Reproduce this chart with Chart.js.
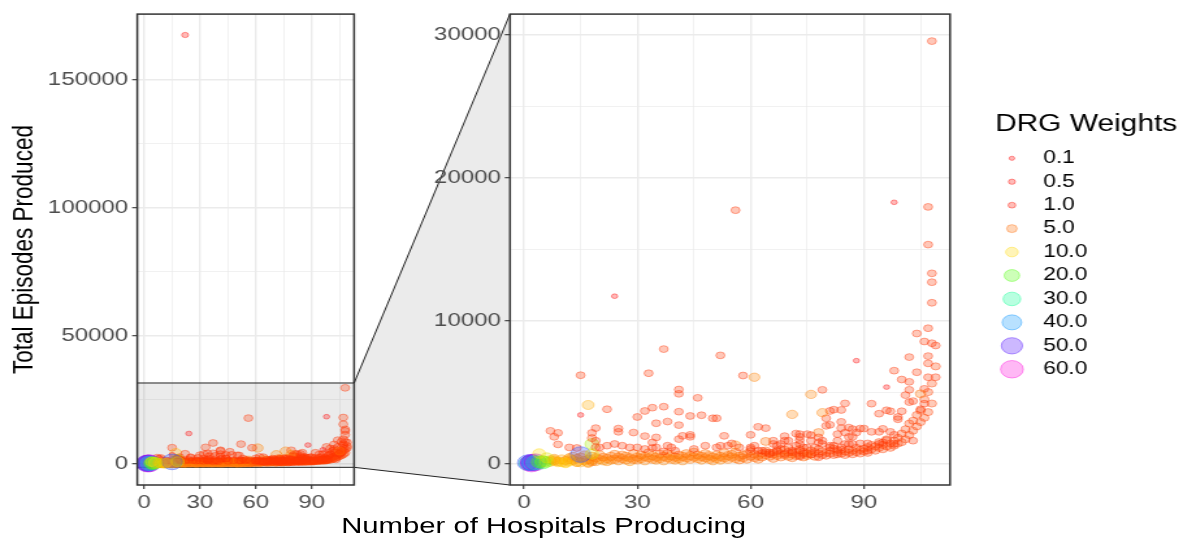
<!DOCTYPE html>
<html>
<head>
<meta charset="utf-8">
<title>Total episodes vs hospitals producing, by DRG weight</title>
<script src="https://cdn.jsdelivr.net/npm/chart.js@4.4.1/dist/chart.umd.min.js"></script>
<style>
  html, body { margin: 0; padding: 0; background: #fff; }
  /* the reference picture is stretched horizontally, so the whole figure is too */
  #wrap { position: relative; width: 913px; height: 541px; transform: scaleX(1.3); transform-origin: 0 0; overflow: hidden; }
  #wrap canvas { position: absolute; top: 0; }
  #xTitle { position: absolute; top: 513px; font: 22.5px "Liberation Sans", Arial, sans-serif; color: #000; text-align: center; white-space: nowrap; }
</style>
</head>
<body>
<div id="wrap">
  <canvas id="zoomLink" width="913" height="541" style="left:0"></canvas>
  <canvas id="fullPanel" width="282" height="541" style="left:0"></canvas>
  <canvas id="zoomPanel" width="588" height="541" style="left:325px"></canvas>
  <div id="xTitle">Number of Hospitals Producing</div>
</div>
<script>
// ---- data: x = hospitals producing, y = total episodes, w = DRG weight ----

// scattered DRGs above the main band
const scatterX = [
  22, 108, 56, 98, 107, 107, 108, 108, 108, 24,
  107, 104, 106, 108, 109, 107, 102, 107, 88, 104,
  107, 109, 98, 100, 102, 106, 102, 101, 96, 102,
  103, 106, 105, 105, 100, 99, 99, 96, 97, 92,
  94, 95, 97, 98, 103, 98, 94, 95, 91, 96,
  89, 88, 87, 86, 85, 90, 92, 94, 89, 91,
  87, 85, 85, 84, 84, 83, 86, 87, 79, 76,
  82, 81, 80, 80, 81, 79, 84, 78, 79, 75,
  73, 73, 72, 76, 73, 76, 78, 78, 79, 77,
  81, 81, 82, 83, 84, 83, 86, 75, 78, 71,
  69, 69, 68, 67, 66, 66, 64, 62, 60, 64,
  61, 58, 52, 37, 33, 15, 41, 41, 46, 17,
  22, 15, 32, 34, 37, 41, 44, 47, 50, 51,
  30, 35, 38, 41, 7, 9, 8, 18, 19, 25,
  25, 29, 32, 35, 41, 42, 44, 44, 53, 9,
  12, 14, 18, 18, 19, 19, 34, 56, 52, 54,
  55, 57, 45, 48, 51, 39, 38, 37, 40, 20,
  22, 24, 26, 28, 30, 32, 34, 35, 60, 61,
  63, 65, 67, 69, 71, 73, 71, 73, 76, 70,
  72, 73, 60, 62, 64, 66, 68, 70, 74, 74
];
const scatterY = [
  167400, 29560, 17730, 18280, 17960, 15320, 13310, 12690, 11250, 11710,
  9470, 9100, 8540, 8420, 8260, 7520, 7450, 7010, 7200, 6390,
  6040, 6040, 6500, 5880, 5720, 5230, 5160, 4790, 5350, 4300,
  4370, 4190, 3800, 4880, 3660, 3260, 3100, 3730, 3660, 4190,
  3490, 2430, 2220, 2010, 1600, 1370, 1370, 1480, 900, 1640,
  2450, 2170, 2410, 2520, 2170, 2450, 2220, 2220, 1410, 1410,
  1370, 1370, 4210, 2920, 2480, 2060, 1870, 1870, 5160, 4840,
  3770, 3680, 3170, 2640, 2710, 3560, 3750, 2170, 1600, 2060,
  2060, 1870, 2100, 1990, 1640, 1600, 1830, 1480, 1370, 1130,
  1250, 1130, 1250, 1600, 1130, 950, 1370, 1130, 440, 3440,
  1920, 1600, 1370, 1250, 1600, 1370, 2480, 2570, 2010, 1550,
  6040, 6160, 7570, 8010, 6320, 6180, 5180, 4880, 4600, 4100,
  3800, 3400, 3680, 3910, 3980, 3630, 3330, 3380, 3170, 3170,
  3260, 2820, 2940, 2690, 2290, 2150, 1870, 2150, 2480, 2450,
  2220, 2170, 1920, 1830, 1710, 1940, 1870, 2010, 1940, 1340,
  1130, 1090, 1370, 1780, 1600, 1130, 1480, 1290, 1250, 1250,
  1410, 1130, 1020, 1250, 1130, 1130, 1250, 850, 900, 1130,
  1250, 1370, 1250, 1130, 1130, 1020, 1090, 1130, 1020, 1250,
  900, 670, 900, 670, 790, 490, 900, 900, 630, 1600,
  1250, 1370, 1130, 900, 790, 790, 1020, 1130, 670, 1130
];
const scatterW = [
  0.5, 2.5, 2.5, 0.2, 2.5, 2.5, 2.5, 2.5, 2.5, 0.2,
  2.5, 2.5, 2.5, 2.5, 2.5, 2.5, 2.5, 2.5, 0.2, 2.5,
  2.5, 2.5, 2.5, 2.5, 2.5, 2.5, 2.5, 2.5, 0.2, 2.5,
  2.5, 2.5, 2.5, 5, 2.5, 2.5, 2.5, 2.5, 2.5, 2.5,
  2.5, 2.5, 2.5, 2.5, 2.5, 2.5, 2.5, 2.5, 2.5, 2.5,
  2.5, 2.5, 2.5, 2.5, 2.5, 2.5, 2.5, 2.5, 2.5, 2.5,
  2.5, 2.5, 2.5, 2.5, 2.5, 2.5, 2.5, 2.5, 2.5, 6,
  2.5, 2.5, 2.5, 2.5, 2.5, 6, 2.5, 5, 2.5, 2.5,
  2.5, 2.5, 2.5, 2.5, 2.5, 2.5, 2.5, 2.5, 2.5, 2.5,
  2.5, 2.5, 2.5, 2.5, 2.5, 2.5, 2.5, 2.5, 2.5, 6,
  2.5, 2.5, 2.5, 2.5, 2.5, 2.5, 2.5, 2.5, 2.5, 5,
  6, 2.5, 2.5, 2.5, 2.5, 2.5, 2.5, 2.5, 2.5, 8,
  2.5, 0.2, 2.5, 2.5, 2.5, 2.5, 2.5, 2.5, 2.5, 2.5,
  2.5, 2.5, 2.5, 2.5, 2.5, 2.5, 2.5, 2.5, 2.5, 2.5,
  2.5, 2.5, 2.5, 2.5, 2.5, 2.5, 2.5, 2.5, 2.5, 2.5,
  2.5, 2.5, 15, 3, 2.5, 2.5, 2.5, 6, 2.5, 2.5,
  2.5, 2.5, 2.5, 2.5, 2.5, 2.5, 2.5, 2.5, 2.5, 2.5,
  2.5, 2.5, 2.5, 2.5, 2.5, 2.5, 2.5, 2.5, 2.5, 2.5,
  2.5, 2.5, 2.5, 2.5, 2.5, 2.5, 2.5, 2.5, 2.5, 2.5,
  2.5, 2.5, 2.5, 2.5, 2.5, 2.5, 2.5, 2.5, 2.5, 2.5
];

// the dense band just above zero
const bandX = [
  7, 7, 8, 8, 9, 10, 10, 11, 11, 12,
  12, 13, 13, 14, 14, 15, 15, 16, 16, 17,
  17, 18, 18, 19, 19, 20, 20, 21, 21, 22,
  22, 23, 23, 24, 24, 25, 25, 26, 26, 27,
  27, 28, 28, 29, 29, 30, 30, 31, 31, 32,
  32, 33, 33, 34, 34, 35, 35, 36, 36, 37,
  37, 38, 38, 39, 39, 40, 40, 41, 41, 42,
  42, 43, 43, 44, 44, 45, 45, 46, 46, 47,
  47, 48, 48, 49, 49, 50, 50, 51, 51, 52,
  52, 53, 53, 54, 54, 55, 55, 56, 56, 57,
  57, 58, 58, 59, 59, 60, 60, 61, 61, 62,
  62, 63, 63, 64, 64, 65, 65, 66, 66, 67,
  67, 68, 68, 69, 69, 70, 70, 71, 71, 72,
  72, 73, 73, 74, 74, 75, 75, 76, 76, 77,
  77, 78, 78, 79, 79, 80, 80, 81, 81, 82,
  82, 83, 83, 84, 84, 85, 85, 86, 86, 87,
  87, 88, 88, 89, 89, 90, 90, 91, 91, 92,
  92, 93, 93, 94, 94, 95, 95, 96, 96, 97,
  97, 98, 98, 99, 99, 100, 100, 101, 101, 102,
  102, 103, 103, 104, 104, 105, 105, 106, 106, 107,
  107, 108, 108, 109
];
const bandY = [
  250, 120, 350, 180, 150, 300, 100, 200, 60, 400,
  150, 250, 500, 120, 350, 80, 450, 200, 600, 100,
  300, 250, 500, 150, 400, 300, 600, 200, 450, 350,
  150, 500, 250, 300, 650, 200, 450, 350, 600, 250,
  500, 400, 150, 300, 700, 450, 250, 350, 600, 200,
  500, 400, 750, 300, 550, 250, 450, 350, 650, 500,
  200, 400, 700, 300, 550, 450, 250, 600, 350, 500,
  200, 400, 700, 300, 550, 450, 800, 350, 600, 250,
  500, 400, 700, 300, 550, 450, 200, 600, 350, 500,
  250, 400, 750, 300, 550, 450, 650, 350, 800, 500,
  250, 600, 400, 300, 700, 500, 850, 400, 650, 550,
  300, 700, 450, 600, 900, 500, 750, 650, 350, 550,
  850, 700, 450, 600, 950, 500, 800, 650, 400, 750,
  550, 600, 1000, 450, 800, 700, 550, 900, 650, 500,
  800, 700, 1000, 600, 850, 750, 550, 900, 700, 600,
  1050, 800, 650, 950, 700, 850, 600, 1000, 750, 900,
  650, 1100, 800, 950, 700, 1050, 850, 1150, 750, 1000,
  1300, 900, 1200, 1100, 1500, 1000, 1300, 1200, 1700, 1400,
  1100, 1600, 1250, 1800, 1400, 1500, 2100, 1700, 2400, 2000,
  2800, 2300, 3000, 2600, 3400, 2900, 3700, 3200, 4500, 3600,
  5000, 4200, 5600, 6800
];
const bandW = [
  6.5, 7.5, 6.5, 7.5, 6.5, 7.5, 8.5, 6.5, 7.5, 6.5,
  8.5, 7.5, 5.5, 8.5, 6.5, 7.5, 5.5, 7.5, 5.5, 8.5,
  6.5, 7.5, 5.5, 6.5, 5.5, 6.5, 5.5, 6.5, 5, 5.5,
  6.5, 5.5, 6, 5.5, 5, 6, 5.5, 5.5, 5, 5.5,
  5.5, 5.5, 6.5, 5.5, 5, 5.5, 5.5, 5.5, 5, 6,
  5.5, 5.5, 5, 5.5, 5.5, 6, 5.5, 5.5, 5, 5.5,
  6, 5.5, 5, 5.5, 5.5, 5.5, 6, 5, 5.5, 5.5,
  6, 5.5, 5, 5.5, 5.5, 5.5, 5, 5.5, 5, 6,
  5.5, 5.5, 5, 5.5, 5.5, 5.5, 6, 5, 5.5, 5.5,
  6, 5.5, 5, 5.5, 5.5, 5.5, 5, 5.5, 5, 5.5,
  5, 4.5, 5, 5, 4.5, 4.5, 4, 4.5, 4, 4.5,
  5, 4, 4.5, 4, 4, 4.5, 4, 4, 4.5, 4,
  4, 4, 4.5, 4, 4, 4.5, 4, 4, 4.5, 4,
  4, 4, 4, 4.5, 4, 4, 4, 4, 4, 4.5,
  3, 3, 3, 3, 3, 3, 3, 3, 3, 3,
  3, 3, 3, 3, 3, 3, 3, 3, 3, 3,
  3, 3, 3, 3, 3, 3, 3, 3, 3, 3,
  3, 3, 3, 3, 3, 3, 3, 3, 3, 3,
  3, 3, 3, 3, 3, 3, 3, 3, 3, 3,
  3, 3, 3, 3, 3, 3, 3, 3, 3, 3,
  3, 3, 3, 3
];

// heavy DRGs made by only a few hospitals
const heavyX = [1, 1, 2, 2, 2, 3, 3, 4, 5, 5, 6, 4, 9, 11, 8, 14, 17, 18, 15, 18, 6, 12];
const heavyY = [30, 60, 20, 70, 40, 90, 50, 110, 80, 150, 120, 700, 100, 40, 250, 100, 20, 120, 630, 670, 400, 300];
const heavyW = [30, 45, 58, 50, 40, 55, 35, 20, 25, 18, 15, 10, 9, 10, 8, 7, 6, 5, 45, 12, 12, 8];

// axes
const xRange = [-3.7, 112.8];
const fullYRange = [-8400, 175560];
const zoomYRange = [-1500, 31450];
const xMajor = [0, 30, 60, 90];
const xMinor = [15, 45, 75, 105];
const fullYMajor = [0, 50000, 100000, 150000];
const fullYMinor = [25000, 75000, 125000];
const zoomYMajor = [0, 10000, 20000, 30000];
const zoomYMinor = [5000, 15000, 25000];

// legend
const legendWeights = [0.1, 0.5, 1, 5, 10, 20, 30, 40, 50, 60];
const legendLabels = ["0.1", "0.5", "1.0", "5.0", "10.0", "20.0", "30.0", "40.0", "50.0", "60.0"];

// ---- styling helpers ----
const FONT = '"Liberation Sans", Arial, sans-serif';
Chart.defaults.font.family = FONT;

const rainbow = [[255, 0, 0], [255, 219, 0], [73, 255, 0], [0, 255, 146], [0, 146, 255], [73, 0, 255], [255, 0, 219]];
const W_MIN = 0.1, W_MAX = 60;

function colorFor(w, alpha) {
  let t = (w - W_MIN) / (W_MAX - W_MIN);
  t = Math.max(0, Math.min(1, t)) * (rainbow.length - 1);
  const i = Math.min(Math.floor(t), rainbow.length - 2);
  const f = t - i;
  const c = rainbow[i].map((v, k) => Math.round(v + (rainbow[i + 1][k] - v) * f));
  return "rgba(" + c[0] + "," + c[1] + "," + c[2] + "," + alpha + ")";
}

// ggplot style area scale, size 1..6 mapped to pixels
function radiusFor(w) {
  const t = Math.max(0, (w - W_MIN) / (W_MAX - W_MIN));
  const size = 1 + 5 * Math.sqrt(t);
  return 0.75 + 1.33 * size;
}

function toPoints(xs, ys, ws) {
  return xs.map((x, i) => ({ x: x, y: ys[i], w: ws[i] }));
}

const points = [].concat(
  toPoints(bandX, bandY, bandW),
  toPoints(scatterX, scatterY, scatterW),
  toPoints(heavyX, heavyY, heavyW)
);

function isMajor(list, ctx) {
  return ctx && ctx.tick && list.includes(ctx.tick.value);
}

function axis(range, major, minor, size, extra) {
  const all = major.concat(minor).sort((a, b) => a - b);
  return Object.assign({
    type: "linear",
    min: range[0],
    max: range[1],
    afterBuildTicks: s => { s.ticks = all.map(v => ({ value: v })); },
    afterFit: s => { if (size.width) s.width = size.width; if (size.height) s.height = size.height; },
    ticks: {
      autoSkip: false, maxRotation: 0, padding: 3, color: "#4D4D4D",
      font: { size: 18.5 },
      callback: v => (major.includes(v) ? String(v) : "")
    },
    grid: {
      color: "#EBEBEB",
      lineWidth: c => (isMajor(major, c) ? 1.4 : 0.7),
      tickColor: c => (isMajor(major, c) ? "#333333" : "rgba(0,0,0,0)"),
      tickLength: 4,
      tickWidth: 1.1
    },
    border: { display: false }
  }, extra || {});
}

// frame, and the grey zoom window on the full panel
const panelFrame = {
  id: "panelFrame",
  beforeDatasetsDraw(chart, args, opts) {
    if (!opts.zoomBox) return;
    const { ctx, chartArea: a, scales } = chart;
    const t = scales.y.getPixelForValue(zoomYRange[1]);
    const b = scales.y.getPixelForValue(zoomYRange[0]);
    ctx.save();
    ctx.fillStyle = "rgba(0,0,0,0.08)";
    ctx.fillRect(a.left, t, a.right - a.left, b - t);
    ctx.strokeStyle = "#222222";
    ctx.lineWidth = 1;
    ctx.beginPath();
    ctx.moveTo(a.left, t); ctx.lineTo(a.right, t);
    ctx.moveTo(a.left, b); ctx.lineTo(a.right, b);
    ctx.stroke();
    ctx.restore();
  },
  afterDraw(chart) {
    const { ctx, chartArea: a } = chart;
    ctx.save();
    ctx.strokeStyle = "#333333";
    ctx.lineWidth = 1.5;
    ctx.strokeRect(a.left, a.top, a.right - a.left, a.bottom - a.top);
    ctx.restore();
  }
};

// size / colour legend on the right
const weightLegend = {
  id: "weightLegend",
  afterDraw(chart, args, opts) {
    if (opts.x === undefined) return;
    const ctx = chart.ctx;
    ctx.save();
    ctx.textAlign = "left";
    ctx.textBaseline = "middle";
    ctx.fillStyle = "#000";
    ctx.font = "23px " + FONT;
    ctx.fillText("DRG Weights", opts.x, 125);
    ctx.font = "17.5px " + FONT;
    legendWeights.forEach((w, i) => {
      const y = 158.3 + i * 23.44;
      ctx.beginPath();
      ctx.arc(opts.x + 13, y, radiusFor(w), 0, Math.PI * 2);
      ctx.fillStyle = colorFor(w, 0.28);
      ctx.fill();
      ctx.strokeStyle = colorFor(w, 0.4);
      ctx.lineWidth = 1;
      ctx.stroke();
      ctx.fillStyle = "#000";
      ctx.fillText(legendLabels[i], opts.x + 37, y);
    });
    ctx.restore();
  }
};

function makeChart(id, yRange, yMajor, yMinor, yWidth, pad, pluginOpts, yTitle) {
  return new Chart(document.getElementById(id), {
    type: "scatter",
    data: {
      datasets: [{
        data: points,
        pointRadius: c => radiusFor(c.raw.w),
        pointBackgroundColor: c => colorFor(c.raw.w, 0.28),
        pointBorderColor: c => colorFor(c.raw.w, 0.4),
        pointBorderWidth: 1
      }]
    },
    options: {
      responsive: false,
      animation: false,
      devicePixelRatio: 1,
      events: [],
      layout: { padding: pad },
      plugins: Object.assign({ legend: { display: false }, tooltip: { enabled: false } }, pluginOpts),
      scales: {
        x: axis(xRange, xMajor, xMinor, { height: 56 }),
        y: axis(yRange, yMajor, yMinor, { width: yWidth }, yTitle ? {
          title: { display: true, text: yTitle, color: "#000", font: { size: 22.5 }, padding: { top: 5, bottom: 0 } }
        } : {})
      }
    },
    plugins: [panelFrame, weightLegend]
  });
}

const RIGHT_OFFSET = 325;

const fullChart = makeChart("fullPanel", fullYRange, fullYMajor, fullYMinor, 105.6,
  { top: 10, right: 7.2, bottom: 0, left: 0 },
  { panelFrame: { zoomBox: true } }, "Total Episodes Produced");

const zoomChart = makeChart("zoomPanel", zoomYRange, zoomYMajor, zoomYMinor, 67.3,
  { top: 10, right: 182.2, bottom: 0, left: 0 },
  { weightLegend: { x: 440.4 } }, null);

// grey link between the zoom window and the zoomed panel
(function drawLink() {
  const la = fullChart.chartArea;
  const ra = zoomChart.chartArea;
  const t = fullChart.scales.y.getPixelForValue(zoomYRange[1]);
  const b = fullChart.scales.y.getPixelForValue(zoomYRange[0]);
  const rx = RIGHT_OFFSET + ra.left;
  const ctx = document.getElementById("zoomLink").getContext("2d");
  ctx.fillStyle = "#EBEBEB";
  ctx.beginPath();
  ctx.moveTo(la.right, t);
  ctx.lineTo(rx, ra.top);
  ctx.lineTo(rx, ra.bottom);
  ctx.lineTo(la.right, b);
  ctx.closePath();
  ctx.fill();
  ctx.strokeStyle = "#222222";
  ctx.lineWidth = 1;
  ctx.beginPath();
  ctx.moveTo(la.right, t); ctx.lineTo(rx, ra.top);
  ctx.moveTo(la.right, b); ctx.lineTo(rx, ra.bottom);
  ctx.stroke();

  // centre the shared x title under both panels
  const title = document.getElementById("xTitle");
  title.style.left = la.left + "px";
  title.style.width = (rx + (ra.right - ra.left) - la.left) + "px";
})();
</script>
</body>
</html>
